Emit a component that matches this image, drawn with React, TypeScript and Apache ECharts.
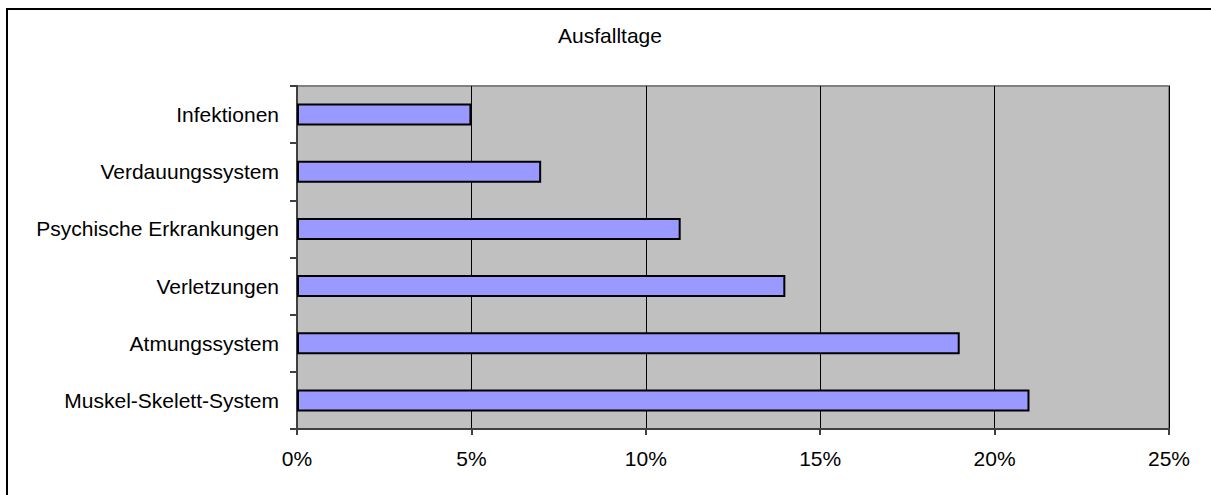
import React, { useEffect, useRef } from "react";
import * as echarts from "echarts";

const categories = [
  "Infektionen",
  "Verdauungssystem",
  "Psychische Erkrankungen",
  "Verletzungen",
  "Atmungssystem",
  "Muskel-Skelett-System",
];
const values = [5, 7, 11, 14, 19, 21];
const xTicks = { min: 0, max: 25, interval: 5 };
const titleText = "Ausfalltage";

export default function App() {
  const ref = useRef<HTMLDivElement>(null);
  useEffect(() => {
    if (!ref.current) return;
    const chart = echarts.init(ref.current, undefined, { renderer: "svg" });
    const font = "Liberation Sans, Arial, sans-serif";
    chart.setOption({
      animation: false,
      backgroundColor: "#ffffff",
      textStyle: { fontFamily: font },
      graphic: [
        {
          type: "rect",
          shape: { x: 7, y: 9, width: 1400, height: 700 },
          style: { fill: "none", stroke: "#000000", lineWidth: 2 },
          silent: true,
          z: -1,
        },
        {
          type: "text",
          x: 610,
          y: 25,
          style: {
            text: titleText,
            fontSize: 21,
            fontFamily: font,
            fill: "#000000",
            textAlign: "center",
            textVerticalAlign: "top",
          },
        },
      ],
      grid: {
        left: 297,
        top: 86,
        right: 42,
        bottom: 66,
        show: true,
        backgroundColor: "#C0C0C0",
        borderColor: "#808080",
        borderWidth: 2,
      },
      xAxis: {
        type: "value",
        min: xTicks.min,
        max: xTicks.max,
        interval: xTicks.interval,
        axisLine: { show: true, lineStyle: { color: "#404040", width: 2 } },
        axisTick: { show: true, length: 6, lineStyle: { color: "#404040", width: 2 } },
        axisLabel: {
          formatter: "{value}%",
          fontSize: 21,
          color: "#000000",
          margin: 19,
          fontFamily: font,
        },
        splitLine: { show: true, lineStyle: { color: "#000000", width: 1 } },
      },
      yAxis: {
        type: "category",
        data: categories,
        inverse: true,
        axisLine: { show: true, lineStyle: { color: "#404040", width: 2 } },
        axisTick: { show: true, length: 7, lineStyle: { color: "#404040", width: 2 } },
        axisLabel: {
          fontSize: 21,
          color: "#000000",
          margin: 18,
          fontFamily: font,
        },
        splitLine: { show: false },
      },
      series: [
        {
          type: "bar",
          data: values,
          barWidth: 22,
          itemStyle: { color: "#9999FF", borderColor: "#000000", borderWidth: 2 },
        },
      ],
    });
    return () => chart.dispose();
  }, []);
  return (
    <div
      ref={ref}
      style={{ position: "fixed", left: 0, top: 0, width: 1211, height: 495 }}
    />
  );
}
